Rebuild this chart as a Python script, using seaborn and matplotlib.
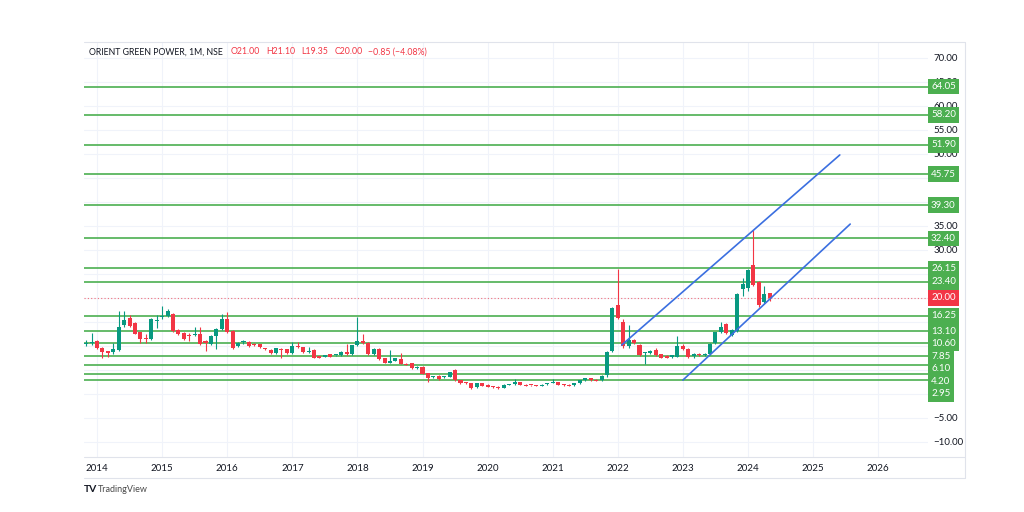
import pandas as pd
import matplotlib
matplotlib.use("Agg")
import matplotlib.pyplot as plt
import matplotlib.transforms as mtrans
from matplotlib.lines import Line2D
import seaborn as sns

# monthly OHLC, Nov 2013 .. May 2024
opens = [10.4, 10.6,
         11.1, 9.6, 8.9, 8.7, 9.1, 14.3, 15.9, 14.7, 12.9, 11.6, 11.4, 15.3,
         16.0, 16.2, 16.7, 13.4, 12.8, 12.1, 12.3, 12.6, 11.0, 10.5, 12.0, 13.5,
         15.6, 13.2, 9.9, 10.8, 10.9, 10.5, 10.4, 9.4, 9.2, 8.5, 9.3, 9.3,
         8.5, 9.9, 9.7, 8.8, 9.2, 7.9, 7.8, 8.3, 8.1, 8.1, 8.7, 8.3,
         10.2, 11.1, 10.6, 8.3, 9.4, 7.4, 6.5, 6.9, 7.3, 6.2, 6.4, 5.5,
         5.7, 4.3, 3.5, 3.8, 3.5, 3.6, 5.0, 2.9, 2.3, 2.2, 1.4, 2.2,
         1.9, 1.6, 1.5, 1.3, 1.9, 2.0, 2.4, 1.9, 1.85, 1.85, 1.7, 2.0,
         2.3, 2.4, 1.9, 1.9, 1.8, 2.2, 2.9, 3.3, 3.0, 2.9, 4.0, 9.0,
         18.5, 15.1, 9.9, 11.2, 10.3, 8.5, 8.5, 9.2, 8.3, 8.0, 7.7, 7.8,
         10.1, 9.4, 8.0, 8.3, 8.2, 8.3, 10.6, 12.9, 14.5, 12.2, 13.1, 21.9,
         22.0, 26.9, 23.4, 19.2, 21.0]
highs = [11.2, 12.8,
         11.3, 9.8, 9.0, 10.7, 17.2, 17.3, 16.5, 14.9, 13.0, 12.6, 15.9, 16.5,
         18.3, 17.8, 16.9, 13.6, 13.0, 12.8, 13.9, 13.9, 11.2, 12.2, 13.8, 16.7,
         17.0, 13.3, 10.9, 11.3, 11.0, 10.7, 10.5, 9.6, 9.3, 9.6, 9.5, 9.4,
         10.9, 10.8, 9.8, 9.8, 9.3, 8.0, 8.2, 8.4, 8.2, 8.9, 10.5, 10.3,
         16.0, 12.6, 10.8, 9.5, 9.5, 7.5, 9.2, 7.5, 8.6, 6.4, 6.5, 5.8,
         5.8, 4.4, 3.7, 3.9, 3.8, 4.6, 5.2, 3.0, 2.4, 2.3, 2.3, 2.3,
         2.0, 1.7, 1.6, 2.0, 2.1, 3.1, 2.5, 2.0, 1.9, 1.9, 2.0, 2.3,
         3.1, 2.5, 2.0, 2.0, 2.3, 3.0, 3.4, 3.4, 3.1, 3.9, 8.9, 18.2,
         26.0, 15.6, 14.4, 11.4, 10.4, 8.8, 9.1, 9.6, 8.4, 8.1, 8.2, 12.1,
         10.5, 9.5, 8.6, 8.5, 8.6, 10.6, 13.0, 15.1, 14.7, 13.5, 21.0, 24.2,
         26.0, 34.2, 23.6, 22.5, 21.1]
lows = [10.0, 10.2,
        9.3, 7.6, 7.8, 8.4, 8.9, 13.9, 14.0, 12.4, 10.7, 10.7, 11.2, 13.7,
        15.6, 16.0, 13.0, 12.2, 11.3, 11.0, 12.0, 10.3, 8.9, 10.3, 9.4, 13.3,
        12.8, 9.4, 9.7, 10.4, 9.8, 10.0, 9.6, 9.1, 8.4, 8.4, 7.4, 8.4,
        8.4, 9.5, 8.6, 8.6, 7.5, 7.5, 7.7, 7.7, 7.9, 8.0, 8.2, 8.2,
        10.0, 10.5, 8.2, 8.1, 7.1, 6.4, 6.4, 6.8, 6.2, 6.0, 5.2, 5.3,
        4.1, 2.6, 3.4, 3.0, 3.4, 3.5, 2.8, 2.1, 2.1, 1.1, 1.3, 1.6,
        1.4, 1.3, 1.1, 1.2, 1.8, 1.9, 1.8, 1.6, 1.7, 1.6, 1.6, 1.9,
        2.2, 1.8, 1.7, 1.6, 1.7, 2.1, 2.8, 2.8, 2.7, 2.8, 3.6, 8.8,
        15.6, 9.6, 9.5, 10.5, 7.9, 6.2, 8.3, 7.9, 7.5, 7.5, 7.6, 7.7,
        9.2, 7.6, 7.4, 8.0, 7.9, 8.2, 10.4, 12.7, 12.6, 12.0, 12.9, 20.4,
        21.5, 22.5, 18.1, 19.0, 19.35]
closes = [10.6, 10.6,
          9.5, 8.7, 8.5, 9.4, 14.0, 15.5, 14.2, 12.6, 11.4, 11.4, 15.6, 15.3,
          16.3, 17.2, 13.2, 12.4, 11.5, 12.0, 12.6, 10.5, 10.6, 12.0, 13.5, 15.6,
          13.0, 9.6, 10.7, 10.8, 9.9, 10.2, 9.7, 9.3, 8.5, 9.5, 9.2, 8.5,
          9.9, 9.7, 8.7, 8.9, 7.6, 7.6, 8.1, 7.8, 8.1, 8.7, 8.3, 10.2,
          11.1, 10.6, 8.3, 9.4, 7.2, 6.5, 6.9, 7.4, 6.3, 6.1, 5.35, 5.6,
          4.2, 3.3, 3.6, 3.1, 3.6, 4.5, 2.9, 2.2, 2.2, 1.2, 2.2, 1.7,
          1.5, 1.4, 1.2, 1.9, 2.0, 2.4, 1.9, 1.7, 1.8, 1.65, 1.9, 2.2,
          2.4, 1.9, 1.85, 1.7, 2.2, 2.9, 3.3, 2.9, 2.8, 3.8, 8.7, 17.9,
          15.9, 9.9, 11.2, 10.6, 8.1, 8.5, 8.97, 8.1, 7.6, 7.6, 8.1, 9.9,
          9.4, 7.8, 8.3, 8.2, 8.3, 10.5, 12.9, 13.9, 12.8, 13.3, 20.9, 22.9,
          25.8, 22.7, 18.5, 20.8, 20.0]

# support / resistance levels
levels = [64.05, 58.20, 51.90, 45.75, 39.30, 32.40, 26.15, 23.40,
          16.25, 13.10, 10.60, 7.85, 6.10, 4.20, 2.95]
last_price = 20.00

# rising channel (decimal year, price)
upper_x = [2022.06, 2025.41]
upper_y = [10.2, 49.8]
lower_x = [2023.0, 2025.57]
lower_y = [2.9, 35.4]

years = list(range(2014, 2027))
grid_ticks = [70, 65, 60, 55, 50, 45, 40, 35, 30, 25, 20, 15, 10, 5, 0, -5, -10]
# scale labels that are not hidden behind the level tags
shown_ticks = [70, 65, 60, 55, 50, 35, 30, -5, -10]

header = [("ORIENT GREEN POWER, 1M, NSE", "#131722"), ("O21.00", "#f23645"),
          ("H21.10", "#f23645"), ("L19.35", "#f23645"), ("C20.00", "#f23645"),
          ("\u22120.85 (\u22124.08%)", "#f23645")]

dates = pd.date_range("2013-11-01", periods=len(closes), freq="MS")
df = pd.DataFrame({"open": opens, "high": highs, "low": lows, "close": closes})
df["t"] = dates.year + (dates.month - 1) / 12

sns.set_theme(style="white")
plt.rcParams["font.family"] = ["Lato", "DejaVu Sans"]

UP, DOWN = "#089981", "#f23645"
LEVEL = "#4caf50"
TXT = "#131722"

fig = plt.figure(figsize=(10.24, 5.12), dpi=100)
fig.patch.set_facecolor("white")
ax = fig.add_axes([84 / 1024, 1 - 457 / 512, (928 - 84) / 1024, (457 - 42) / 512])

# horizontal levels
for lv in levels:
    ax.axhline(lv, color=LEVEL, lw=1.2, zorder=1)
ax.axhline(last_price, color=DOWN, lw=0.8, ls=(0, (1, 2)), alpha=0.7, zorder=1)

# candles
col = [UP if c >= o else DOWN for o, c in zip(df["open"], df["close"])]
ax.vlines(df["t"], df["low"], df["high"], colors=col, lw=0.8, zorder=3)
body_lo = df[["open", "close"]].min(axis=1)
body_h = (df["close"] - df["open"]).abs().clip(lower=0.2)
ax.bar(df["t"], body_h, bottom=body_lo, width=0.062, color=col, linewidth=0, zorder=4)

# channel
ch = pd.DataFrame({"x": upper_x + lower_x, "y": upper_y + lower_y,
                   "line": ["upper", "upper", "lower", "lower"]})
sns.lineplot(data=ch, x="x", y="y", units="line", estimator=None,
             color="#3b6fe0", lw=1.2, ax=ax, zorder=5)

ax.set_xlim(2013.80, 2026.765)
ax.set_ylim(-13.125, 73.33)
ax.set_xticks(years)
ax.set_xticklabels([str(y) for y in years])
ax.set_yticks(grid_ticks)
ax.set_yticklabels([f"{v:.2f}".replace("-", "\u2212") if v in shown_ticks else ""
                    for v in grid_ticks])
ax.yaxis.tick_right()
ax.tick_params(axis="y", length=0, pad=4, labelsize=7, labelcolor=TXT)
ax.tick_params(axis="x", length=0, pad=5, labelsize=7, labelcolor=TXT)
ax.grid(True, color="#f0f3fa", lw=0.8)
ax.set_axisbelow(True)
ax.set_xlabel("")
ax.set_ylabel("")
for s in ax.spines.values():
    s.set_visible(False)

# level labels on the price scale, pushed apart so they do not overlap
off = mtrans.ScaledTranslation(3 / 100, 0, fig.dpi_scale_trans)
tr = mtrans.blended_transform_factory(ax.transAxes, ax.transData) + off
min_gap = 2.6
tags = sorted([(lv, LEVEL) for lv in levels] + [(last_price, DOWN)], reverse=True)
prev = None
for lv, fc in tags:
    pos = lv if prev is None else min(lv, prev - min_gap)
    prev = pos
    ax.text(1.0, pos, f"{lv:.2f}", transform=tr, ha="left", va="center",
            fontsize=7, color="white", clip_on=False, zorder=10,
            bbox=dict(boxstyle="square,pad=0.35", fc=fc, ec="none"))

# frame lines of the widget
def fline(x0, y0, x1, y1):
    fig.add_artist(Line2D([x0 / 1024, x1 / 1024], [1 - y0 / 512, 1 - y1 / 512],
                          color="#e0e3eb", lw=0.8))

fline(84, 42, 965, 42)
fline(84, 457, 965, 457)
fline(84, 478, 965, 478)
fline(965, 42, 965, 478)

# header, pieces placed one after another
fig.canvas.draw()
renderer = fig.canvas.get_renderer()
hx = 89
hy = 1 - 52 / 512
for i, (s, c) in enumerate(header):
    t = fig.text(hx / 1024, hy, s, fontsize=6.3, color=c, va="center")
    bb = t.get_window_extent(renderer)
    hx = bb.x1 + (8 if i == 0 else 6)

# watermark
fig.text(84 / 1024, 1 - 490 / 512, "TV", fontsize=7.5, fontweight="bold",
         color="#131722", va="center")
fig.text(98 / 1024, 1 - 490 / 512, "TradingView", fontsize=6.5, color="#4a4a4a", va="center")

fig.savefig("out.png", dpi=100, facecolor="white")
